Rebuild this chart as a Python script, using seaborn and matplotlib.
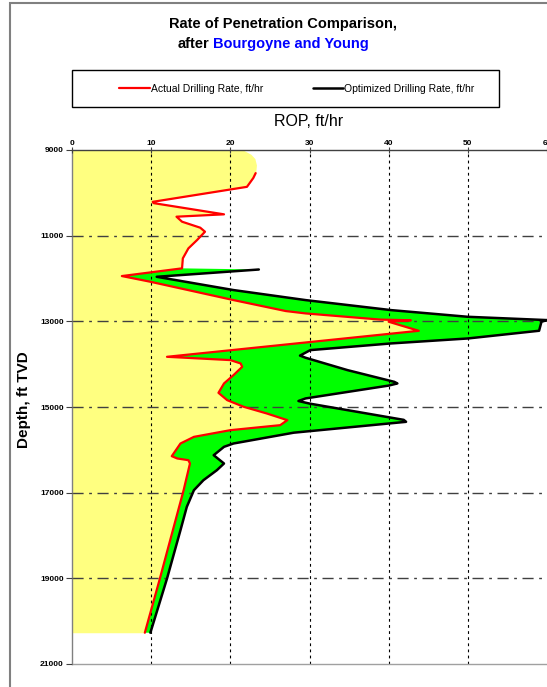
import numpy as np
import matplotlib
matplotlib.use("Agg")
import matplotlib.pyplot as plt
import seaborn as sns
from matplotlib.patches import Rectangle

# ROP vs depth
cap_depth = [9000, 9100, 9200, 9350, 9540]
cap_rop = [21.6, 22.6, 23.1, 23.3, 23.2]

act_depth = [9540, 9654, 9860, 10210, 10240, 10502, 10557, 10674, 10814, 10908,
             11102, 11297, 11530, 11763, 11943, 12076, 12504, 12760, 12815, 12960,
             12975, 13010, 13221, 13828, 13905, 13983, 14062, 14256, 14450, 14669,
             14840, 14996, 15151, 15307, 15424, 15541, 15697, 15852, 16148, 16202,
             16242, 16319, 16942, 18110, 19006, 20270]
act_rop = [23.2, 22.9, 22.1, 10.2, 10.3, 19.2, 13.2, 13.9, 16.2, 16.8,
           15.8, 14.7, 14.0, 13.9, 6.3, 9.9, 20.4, 27.0, 29.5, 39.0,
           42.8, 40.0, 43.8, 12.0, 20.0, 21.3, 21.5, 20.4, 19.2, 18.5,
           19.6, 21.7, 24.6, 27.2, 26.3, 20.0, 15.4, 13.7, 12.6, 13.3,
           14.7, 14.9, 14.1, 12.4, 11.1, 9.2]

opt_depth = [11790, 11960, 12270, 12504, 12738, 12894, 12971, 13010, 13220, 13400,
             13516, 13672, 13800, 13850, 14139, 14412, 14450, 14500, 14800, 14860,
             14920, 15300, 15346, 15600, 15852, 15930, 16125, 16319, 16475, 16709,
             16942, 17332, 17877, 19006, 20270]
opt_rop = [23.6, 10.7, 20.4, 29.5, 40.3, 50.0, 60.0, 59.3, 59.0, 50.0,
           40.3, 30.1, 28.8, 29.5, 34.8, 40.7, 41.1, 40.0, 29.5, 28.6,
           30.0, 41.9, 42.2, 28.0, 20.4, 19.2, 17.9, 19.2, 18.3, 16.6,
           15.4, 14.5, 13.7, 12.0, 9.9]

depth_ticks = list(range(9000, 21001, 2000))
rop_ticks = list(range(0, 61, 10))

sns.set_style("white")
plt.rcParams["font.family"] = ["Liberation Sans", "DejaVu Sans"]
plt.rcParams["text.color"] = "black"
plt.rcParams["xtick.labelcolor"] = "black"
plt.rcParams["ytick.labelcolor"] = "black"

W, H = 547, 687
fig = plt.figure(figsize=(W / 100, H / 100), dpi=100)
ax = fig.add_axes([72 / W, 1 - 664 / H, (W - 72) / W, (664 - 150) / H])

# yellow: area under actual rate, green: gap up to optimized rate
ax.fill_betweenx(cap_depth + act_depth[1:], 0, cap_rop + act_rop[1:],
                 color="#FFFF80", lw=0, zorder=1)
start = act_depth.index(11763)
gx = opt_rop + act_rop[start:][::-1]
gy = opt_depth + act_depth[start:][::-1]
ax.fill(gx, gy, color="#00FF00", lw=0, zorder=1.2)

sns.lineplot(x=opt_rop, y=opt_depth, sort=False, estimator=None, color="black",
             lw=1.8, ax=ax, zorder=3, label="Optimized Drilling Rate, ft/hr")
sns.lineplot(x=act_rop, y=act_depth, sort=False, estimator=None, color="#FF0000",
             lw=1.6, ax=ax, zorder=3.2, label="Actual Drilling Rate, ft/hr")
if ax.get_legend():
    ax.get_legend().remove()

ax.set_xlim(0, 60)
ax.set_ylim(21000, 9000)
ax.xaxis.tick_top()
ax.set_xticks(rop_ticks)
ax.set_yticks(depth_ticks)
ax.set_xlabel("")
ax.set_ylabel("")
ax.tick_params(axis="x", direction="inout", length=4, width=0.8, pad=0,
               labelsize=6, color="#404040")
ax.tick_params(axis="y", direction="out", length=4, width=0.8, pad=2,
               labelsize=6, color="#404040", left=True)
for lab in ax.get_xticklabels() + ax.get_yticklabels():
    lab.set_fontweight("bold")

ax.set_axisbelow(False)
for v in rop_ticks[1:-1]:
    ax.axvline(v, color="black", lw=0.8, ls=(0, (2.5, 3)), zorder=2.5)
for d in depth_ticks[1:-1]:
    ax.axhline(d, color="#404040", lw=1.0, ls=(0, (8, 4, 2, 4)), zorder=2.5)

ax.spines["top"].set_color("#404040")
ax.spines["top"].set_linewidth(1.0)
ax.spines["left"].set_color("#808080")
ax.spines["left"].set_linewidth(1.0)
ax.spines["bottom"].set_color("#A0A0A0")
ax.spines["bottom"].set_linewidth(1.0)
ax.spines["right"].set_visible(False)

# outer chart border (cut off at right and bottom)
fig.patches.append(Rectangle((10 / W, -0.1), 2, 1.1 - 3 / H, transform=fig.transFigure,
                             fill=False, edgecolor="#808080", lw=1.5))

fig.text(283 / W, 1 - 24 / H, "Rate of Penetration Comparison,", ha="center",
         va="center", fontsize=10.5, fontweight="bold")
fig.text(178 / W, 1 - 44 / H, "after", ha="left", va="center", fontsize=10.5,
         fontweight="bold")
fig.text(213 / W, 1 - 44 / H, "Bourgoyne and Young", ha="left", va="center",
         fontsize=10.5, fontweight="bold", color="#0000FF")

fig.text(309 / W, 1 - 122 / H, "ROP, ft/hr", ha="center", va="center", fontsize=11.5)
fig.text(24 / W, 1 - 400 / H, "Depth, ft TVD", ha="center", va="center",
         rotation=90, fontsize=11, fontweight="bold")

# legend box
fig.patches.append(Rectangle((72 / W, 1 - 107 / H), 427 / W, 37 / H,
                             transform=fig.transFigure, fill=False,
                             edgecolor="black", lw=1.0))
handles, labels = ax.get_legend_handles_labels()
order = [labels.index("Actual Drilling Rate, ft/hr"),
         labels.index("Optimized Drilling Rate, ft/hr")]
fig.legend([handles[i] for i in order], [labels[i] for i in order],
           loc="center", bbox_to_anchor=(297 / W, 1 - 88.5 / H), ncol=2,
           frameon=False, fontsize=7.5, handlelength=2.9, handletextpad=0.1,
           columnspacing=4.8)

fig.savefig("out.png", dpi=100)
